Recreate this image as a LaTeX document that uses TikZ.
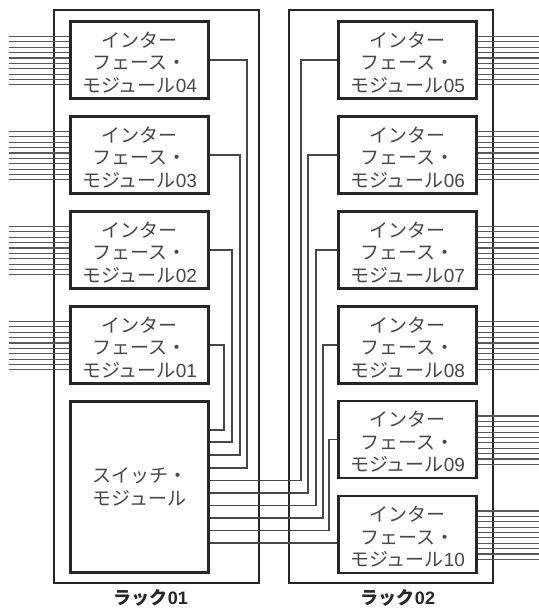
\documentclass[tikz,border=0pt]{standalone}
\usepackage{fontspec}
\newfontfamily\cjk{Noto Sans CJK JP}
\newfontfamily\lat{Liberation Sans}
\usetikzlibrary{calc}
\begin{document}
\begin{tikzpicture}[x=1pt,y=-1pt,
  rack/.style={draw=black!85,line width=1.8pt},
  modbox/.style={draw=black!85,line width=1.8pt,fill=white,minimum width=137pt,minimum height=76pt,inner sep=0pt},
  modtext/.style={align=center,text=black!72,inner sep=0pt,font=\cjk\fontsize{19}{22.5}\selectfont},
  switchbox/.style={modbox,minimum height=170pt},
  conn/.style={draw=black!72,line width=1.1pt},
  cable/.style={draw=black!65,line width=1.1pt},
  racklabel/.style={font=\cjk\bfseries\fontsize{18}{20}\selectfont,text=black!85,inner sep=0pt}]
\useasboundingbox (0,0) rectangle (538,610);
% racks
\draw[rack] (54,10) rectangle (259,583);
\draw[rack] (289,10) rectangle (493,583);
% modules
\node[modbox,label={[modtext,yshift=-2.5pt]center:インター\\フェース・\\モジュール{\lat 04}}] (m04) at (139.5,60) {};
\node[modbox,label={[modtext,yshift=-2.5pt]center:インター\\フェース・\\モジュール{\lat 03}}] (m03) at (139.5,155) {};
\node[modbox,label={[modtext,yshift=-2.5pt]center:インター\\フェース・\\モジュール{\lat 02}}] (m02) at (139.5,250) {};
\node[modbox,label={[modtext,yshift=-2.5pt]center:インター\\フェース・\\モジュール{\lat 01}}] (m01) at (139.5,345) {};
\node[switchbox,label={[modtext,yshift=0pt]center:スイッチ・\\モジュール}] (sw) at (139.5,487) {};
\node[modbox,label={[modtext,yshift=-2.5pt]center:インター\\フェース・\\モジュール{\lat 05}}] (m05) at (407.5,60) {};
\node[modbox,label={[modtext,yshift=-2.5pt]center:インター\\フェース・\\モジュール{\lat 06}}] (m06) at (407.5,155) {};
\node[modbox,label={[modtext,yshift=-2.5pt]center:インター\\フェース・\\モジュール{\lat 07}}] (m07) at (407.5,250) {};
\node[modbox,label={[modtext,yshift=-2.5pt]center:インター\\フェース・\\モジュール{\lat 08}}] (m08) at (407.5,345) {};
\node[modbox,label={[modtext,yshift=-2.5pt]center:インター\\フェース・\\モジュール{\lat 09}}] (m09) at (407.5,439.5) {};
\node[modbox,label={[modtext,yshift=-2.5pt]center:インター\\フェース・\\モジュール{\lat 10}}] (m10) at (407.5,534.5) {};
% cable bundles
\foreach \m in {m04,m03,m02,m01}{
  \foreach \k in {0,...,9}{
    \draw[cable] ($(\m.west)+(0,-23.5+\k*5.37)$) -- ($(\m.west)+(-61,-23.5+\k*5.37)$);
  }
}
\foreach \m in {m05,m06,m07,m08,m09,m10}{
  \foreach \k in {0,...,9}{
    \draw[cable] ($(\m.east)+(0,-23.5+\k*5.37)$) -- ($(\m.east)+(62,-23.5+\k*5.37)$);
  }
}
% switch ports
\coordinate (p1) at (sw.east |- 0,430);
\coordinate (p2) at (sw.east |- 0,442);
\coordinate (p3) at (sw.east |- 0,455);
\coordinate (p4) at (sw.east |- 0,468);
\coordinate (q5) at (sw.east |- 0,480.5);
\coordinate (q6) at (sw.east |- 0,493);
\coordinate (q7) at (sw.east |- 0,505.5);
\coordinate (q8) at (sw.east |- 0,518);
\coordinate (q9) at (sw.east |- 0,530.5);
\coordinate (q10) at (sw.east |- 0,543);
% left connectors
\draw[conn] (m04.east) -| (247,468) -- (p4);
\draw[conn] (m03.east) -| (240,455) -- (p3);
\draw[conn] (m02.east) -| (232,442) -- (p2);
\draw[conn] (m01.east) -| (224,430) -- (p1);
% right connectors
\draw[conn] (m05.west) -| (301,480.5) -- (q5);
\draw[conn] (m06.west) -| (308,493) -- (q6);
\draw[conn] (m07.west) -| (316,505.5) -- (q7);
\draw[conn] (m08.west) -| (323,518) -- (q8);
\draw[conn] (m09.west) -| (329,530.5) -- (q9);
\draw[conn] (q10) -- (q10 -| m10.west);
% redraw module boxes on top
\foreach \m in {m04,m03,m02,m01,sw,m05,m06,m07,m08,m09,m10}{
  \draw[draw=black!85,line width=1.8pt] (\m.north west) rectangle (\m.south east);
}
% labels
\node[racklabel] (l1) at (151,597.5) {ラック{\lat\bfseries 01}};
\node[racklabel] (l2) at (398,597.5) {ラック{\lat\bfseries 02}};
\end{tikzpicture}
\end{document}
